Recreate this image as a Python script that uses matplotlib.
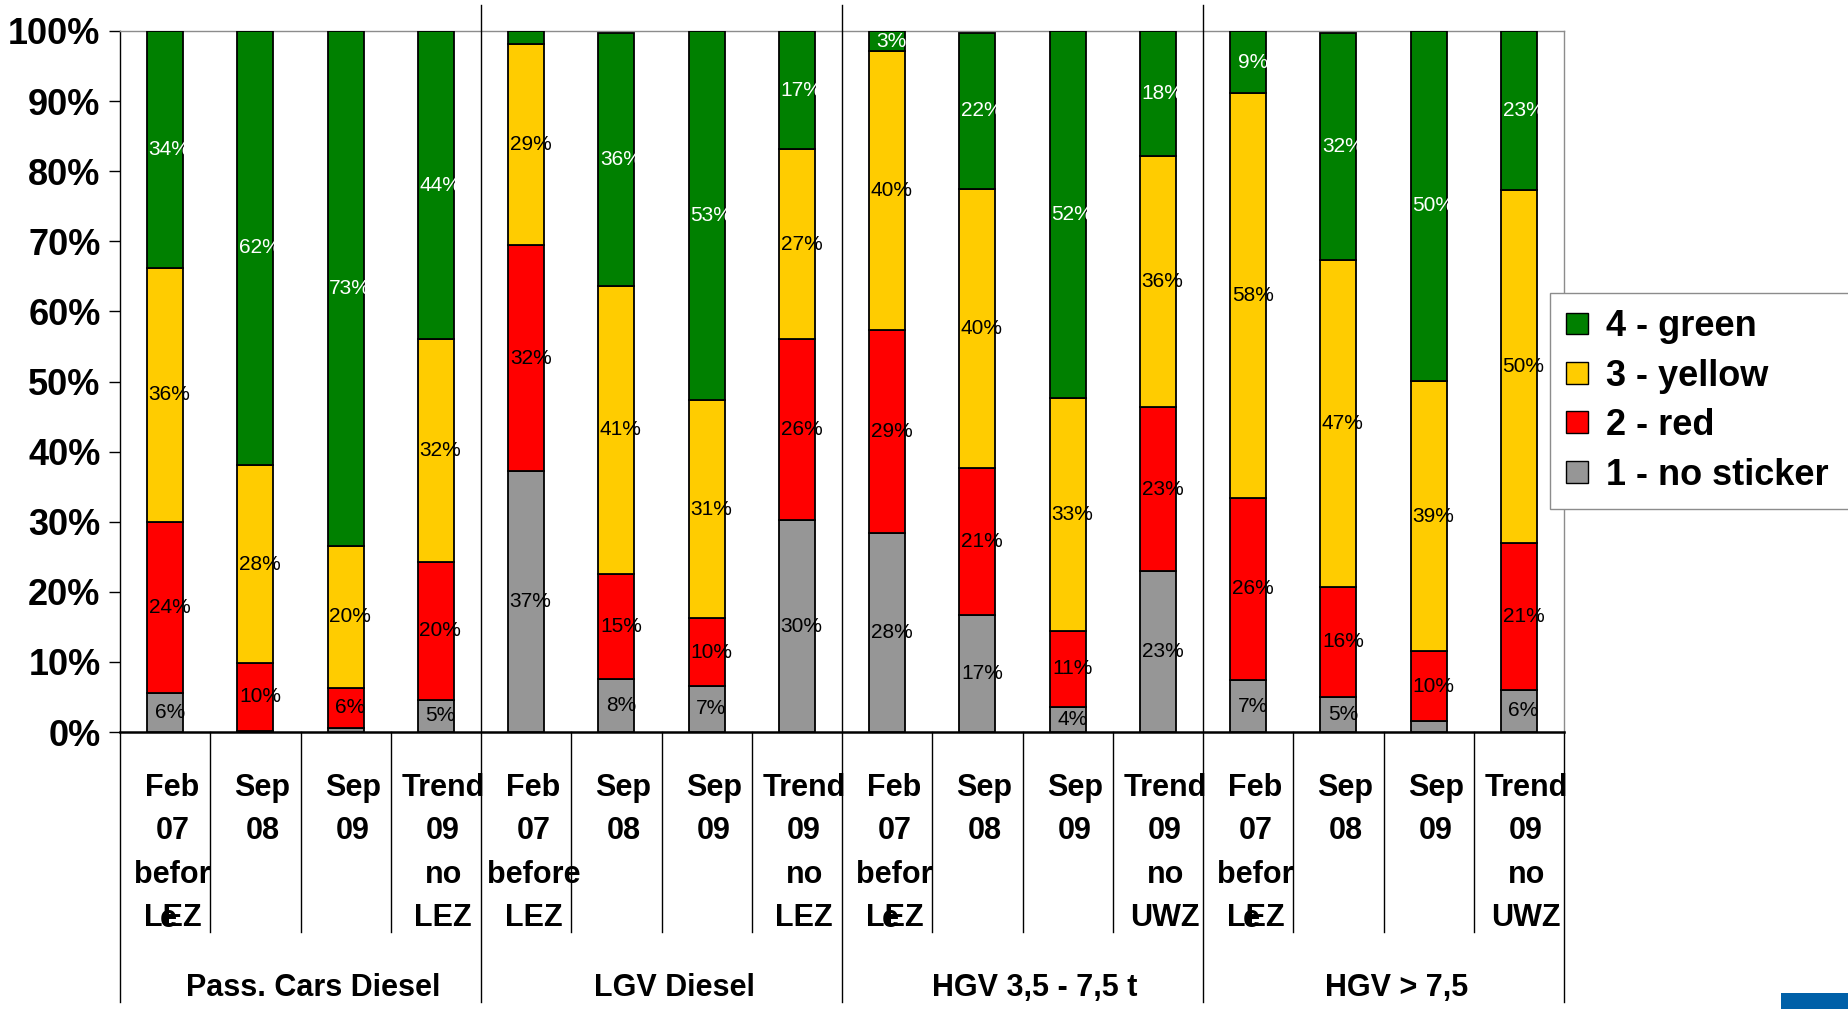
import matplotlib
matplotlib.use("Agg")
import matplotlib.pyplot as plt
import matplotlib.font_manager as fm
from matplotlib.patches import Patch, Rectangle
from matplotlib.lines import Line2D
from matplotlib.transforms import blended_transform_factory

# ---------------- data ----------------
categories = ["Feb\n07\nbefor\nLEZ", "Sep\n08", "Sep\n09", "Trend\n09\nno\nLEZ",
              "Feb\n07\nbefore\nLEZ", "Sep\n08", "Sep\n09", "Trend\n09\nno\nLEZ",
              "Feb\n07\nbefor\nLEZ", "Sep\n08", "Sep\n09", "Trend\n09\nno\nUWZ",
              "Feb\n07\nbefor\nLEZ", "Sep\n08", "Sep\n09", "Trend\n09\nno\nUWZ"]
overlay_e = [0, 8, 12]          # categories where the wrapped "e" overlaps "LEZ"
groups = ["Pass. Cars Diesel", "LGV Diesel", "HGV 3,5 - 7,5 t", "HGV > 7,5"]

no_sticker = [5.6, 0.2, 0.6, 4.6, 37.2, 7.6, 6.6, 30.2, 28.4, 16.7, 3.6, 22.9, 7.4, 5.0, 1.6, 6.0]
red        = [24.4, 9.6, 5.7, 19.7, 32.3, 15.0, 9.6, 25.8, 28.9, 21.0, 10.8, 23.4, 26.0, 15.7, 9.9, 21.0]
yellow     = [36.2, 28.3, 20.3, 31.7, 28.6, 41.0, 31.1, 27.1, 39.8, 39.8, 33.2, 35.8, 57.7, 46.6, 38.6, 50.3]
green      = [33.8, 61.9, 73.4, 44.0, 1.9, 36.1, 52.7, 16.9, 2.9, 22.2, 52.4, 17.9, 8.9, 32.4, 49.9, 22.7]

series = [("1 - no sticker", no_sticker, "#969696", "black"),
          ("2 - red", red, "#FF0000", "black"),
          ("3 - yellow", yellow, "#FFCC00", "black"),
          ("4 - green", green, "#008000", "white")]
yticks = list(range(0, 101, 10))

# ---------------- fonts ----------------
names = {f.name for f in fm.fontManager.ttflist}
NARROW = "Liberation Sans Narrow" in names
if NARROW:
    cat_font = dict(family="Liberation Sans Narrow", fontweight="bold", fontsize=26)
    lab_font = dict(family="Liberation Sans Narrow", fontsize=17)
    cat_ls = 1.3
else:
    cat_font = dict(family="Liberation Sans", fontweight="bold", fontsize=22)
    lab_font = dict(family="Liberation Sans", fontsize=15)
    cat_ls = 1.58
plt.rcParams["font.family"] = ["Liberation Sans", "DejaVu Sans"]

W, H = 1848, 1009
fig = plt.figure(figsize=(W / 100, H / 100), dpi=100)
ax = fig.add_axes([120 / W, 1 - 732 / H, (1564 - 120) / W, (732 - 31) / H])

n = len(categories)
x = list(range(n))
bottom = [0.0] * n
for name, vals, col, tcol in series:
    ax.bar(x, vals, width=0.40, bottom=bottom, color=col, edgecolor="black",
           linewidth=1.3, zorder=3)
    for i, v in enumerate(vals):
        if v >= 2.5:
            ax.text(i + 0.05, bottom[i] + v / 2, f"{v:.0f}%", ha="center", va="center",
                    color=tcol, zorder=4, **lab_font)
    bottom = [b + v for b, v in zip(bottom, vals)]

ax.set_xlim(-0.5, n - 0.5)
ax.set_ylim(0, 100)
ax.set_yticks(yticks)
ax.set_yticklabels([f"{t}%" for t in yticks], fontsize=26, fontweight="bold")
ax.tick_params(axis="y", length=8, width=1, pad=6, direction="out")
ax.set_xticks([])
ax.spines["left"].set_color("black")
ax.spines["left"].set_linewidth(1.0)
ax.spines["bottom"].set_color("black")
ax.spines["bottom"].set_linewidth(1.8)
for s in ("top", "right"):
    ax.spines[s].set_color("#8c8c8c")
    ax.spines[s].set_linewidth(1.0)

# ---------------- category axis (lines & labels) ----------------
tr = blended_transform_factory(ax.transData, fig.transFigure)
def fy(px):
    return 1 - px / H

for k in range(n + 1):
    xb = k - 0.5
    if k in (0, n):
        y0, y1 = 732, 1002
    elif k % 4 == 0:
        y0, y1 = 5, 1002
    else:
        y0, y1 = 732, 932
    ax.add_line(Line2D([xb, xb], [fy(y0), fy(y1)], transform=tr, color="black",
                       linewidth=1.0, clip_on=False, zorder=5))

for i, lab in enumerate(categories):
    ax.text(i + 0.08, fy(773), lab, transform=tr, ha="center", va="top",
            multialignment="center", linespacing=cat_ls, clip_on=False, **cat_font)
for i in overlay_e:
    ax.text(i + 0.04, fy(774), "\n\n\ne", transform=tr, ha="center", va="top",
            linespacing=cat_ls, clip_on=False, **cat_font)

for g, name in enumerate(groups):
    ax.text(4 * g + 1.5 + 0.14, fy(988), name, transform=tr, ha="center", va="center",
            clip_on=False, **cat_font)

# ---------------- legend ----------------
handles = [Patch(facecolor=c, edgecolor="black", linewidth=1.0, label=nm)
           for nm, _, c, _ in reversed(series)]
leg = fig.legend(handles=handles, loc="upper left",
                 bbox_to_anchor=(1550 / W, 1 - 293 / H, 330 / W, 0.0), mode="expand",
                 prop=dict(family="Liberation Sans", weight="bold", size=26),
                 frameon=True, fancybox=False, shadow=False, framealpha=1,
                 handlelength=0.6, handleheight=0.55, handletextpad=0.5,
                 labelspacing=0.4, borderpad=0.45, borderaxespad=0)
leg.get_frame().set_edgecolor("#8c8c8c")
leg.get_frame().set_linewidth(1.0)

# small blue corner mark
fig.add_artist(Rectangle((1781 / W, 0), (W - 1781) / W, 16 / H,
                         transform=fig.transFigure, facecolor="#0060A8",
                         edgecolor="none"))

fig.savefig("out.png", dpi=100)
